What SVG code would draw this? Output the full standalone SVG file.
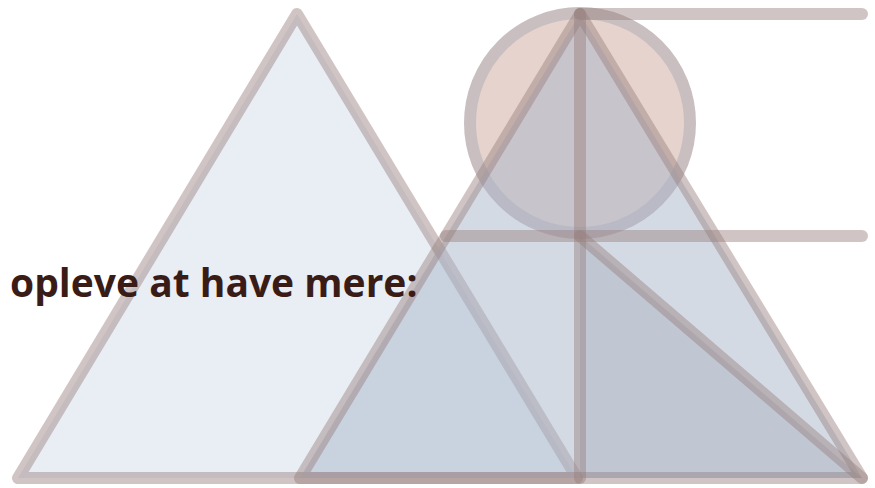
<svg xmlns="http://www.w3.org/2000/svg" width="875" height="488" viewBox="0 0 875 488">
<style>
.ln{stroke:#977f7c;stroke-opacity:0.45;stroke-width:12;stroke-linecap:round;stroke-linejoin:round}
.lbl{font-family:"Open Sans","Noto Sans",sans-serif;font-weight:700;font-size:39px;fill:#3a1c17}
</style>
<rect width="875" height="488" fill="#ffffff"/>
<g id="left-triangle">
<polygon class="ln" points="297,14 18,478 577,478" style="fill:#e9eef4"/>
</g>
<g id="circle">
<circle cx="580" cy="123" r="110" style="fill:#e6d3cd;stroke:#c9bfc1;stroke-width:12"/>
</g>
<g id="right-triangle">
<polygon class="ln" points="580,14 300,478 862,478" style="fill:#aab6ca;fill-opacity:0.5"/>
</g>
<g id="inner-triangle">
<polygon points="580,236 862,478 580,478" style="fill:#7d8594;fill-opacity:0.22;stroke:none"/>
</g>
<g id="connectors">
<line class="ln" x1="580" y1="14" x2="862" y2="14"/>
<line class="ln" x1="446" y1="236" x2="862" y2="236"/>
<line class="ln" x1="580" y1="14" x2="580" y2="478"/>
<line class="ln" x1="580" y1="236" x2="862" y2="478"/>
</g>
<g id="label">
<text class="lbl" x="10" y="297">opleve at have mere:</text>
</g>
</svg>
